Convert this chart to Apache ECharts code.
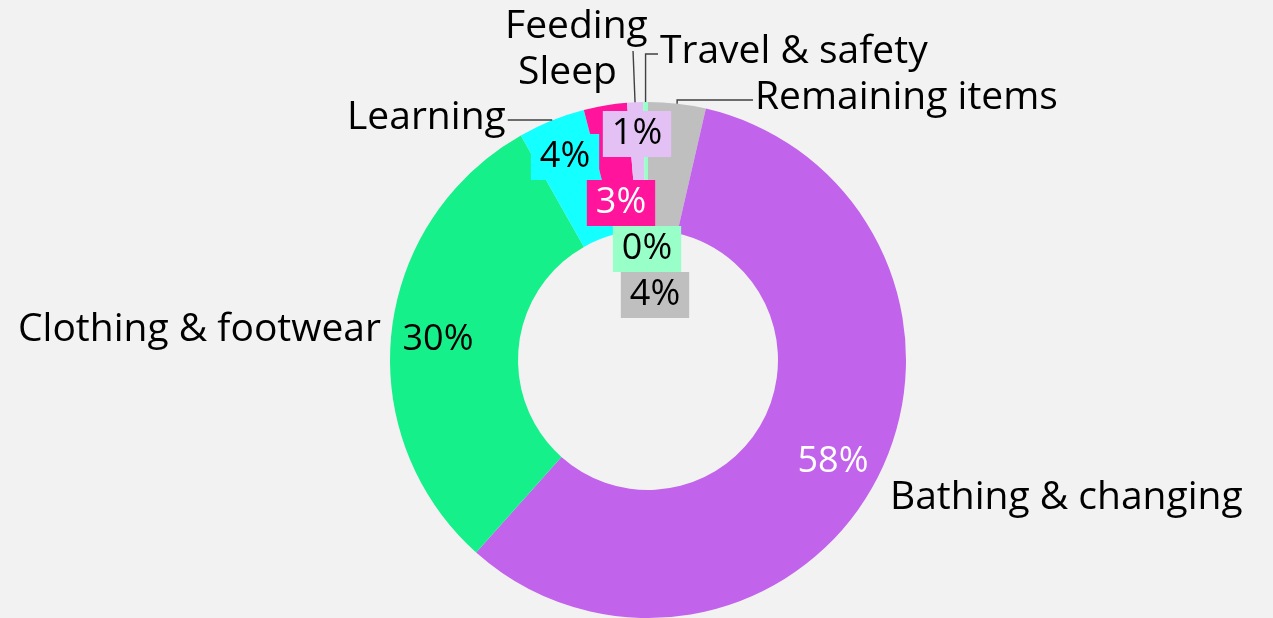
<!DOCTYPE html>
<html>
<head>
<meta charset="utf-8">
<style>
  html, body { margin: 0; padding: 0; background: #F2F2F2; }
  #chart { width: 1273px; height: 618px; }
</style>
<script src="https://cdn.jsdelivr.net/npm/echarts@6/dist/echarts.min.js"></script>
</head>
<body>
<div id="chart"></div>
<script>
// Spending by category (share of total, %), listed clockwise from 12 o'clock
const categories = ['Remaining items', 'Bathing & changing', 'Clothing & footwear', 'Learning', 'Sleep', 'Feeding', 'Travel & safety'];
const shares = [3.6, 58.0, 30.2, 4.2, 2.7, 1.0, 0.3];

const sliceColors = ['#BFBFBF', '#C164EB', '#16F08B', '#14FFFF', '#FF149B', '#E4C1F4', '#99FFC8'];
const pctTextColors = ['#000', '#fff', '#000', '#000', '#fff', '#000', '#000'];
const pctHasBox = [true, false, false, true, true, true, true];
const hasLeader = [true, false, false, true, false, true, true];

const FONT = '"Open Sans", "Liberation Sans", sans-serif';
const NAME_FS = 39;
const PCT_FS = 36;
const CX = 648, CY = 360;

// label placement, as offsets from the ring centre
const pctPlace = [[7, -65], [185, 102], [-210, -20], [-83, -203], [-27, -157], [-11, -226], [-1, -111]];
const namePlace = [[107, -262], [242, 138], [-630, -30], [-301, -242], [-130, -287], [-143, -333], [12, -308]];

const chart = echarts.init(document.getElementById('chart'), null, { renderer: 'canvas' });

const pctData = categories.map((name, i) => ({
  name,
  value: shares[i],
  itemStyle: { color: sliceColors[i] },
  label: {
    color: pctTextColors[i],
    backgroundColor: pctHasBox[i] ? sliceColors[i] : 'transparent',
    padding: pctHasBox[i] ? [5, 9, 3, 9] : 0
  }
}));

const nameData = categories.map((name, i) => ({
  name,
  value: shares[i],
  labelLine: { show: hasLeader[i] }
}));

chart.setOption({
  backgroundColor: '#F2F2F2',
  animation: false,
  series: [
    {
      type: 'pie',
      center: [CX, CY],
      radius: [130, 258],
      startAngle: 90,
      clockwise: true,
      avoidLabelOverlap: false,
      silent: true,
      data: pctData,
      label: {
        show: true,
        position: 'inside',
        fontFamily: FONT,
        fontSize: PCT_FS,
        lineHeight: 38,
        formatter: p => Math.round(p.percent) + '%'
      },
      labelLine: { show: false },
      labelLayout: p => {
        const o = pctPlace[p.dataIndex];
        return { x: CX + o[0], y: CY + o[1], align: 'center', verticalAlign: 'middle' };
      }
    },
    {
      type: 'pie',
      center: [CX, CY],
      radius: [130, 258],
      startAngle: 90,
      clockwise: true,
      avoidLabelOverlap: false,
      silent: true,
      z: 3,
      itemStyle: { color: 'rgba(0,0,0,0)' },
      data: nameData,
      label: {
        show: true,
        position: 'outside',
        fontFamily: FONT,
        fontSize: NAME_FS,
        color: '#000',
        formatter: '{b}'
      },
      labelLine: {
        show: true,
        length: 10,
        length2: 10,
        lineStyle: { color: '#404040', width: 1.4 }
      },
      labelLayout: p => {
        const i = p.dataIndex;
        const o = namePlace[i];
        const x = CX + o[0], y = CY + o[1];
        const res = { x, y, align: 'left', verticalAlign: 'middle' };
        if (hasLeader[i] && p.labelLinePoints) {
          const a = p.labelLinePoints[0];
          const w = p.labelRect.width;
          const endX = a[0] < x ? x - 2 : x + w + 2;
          const lineY = i === 5 ? y + 24 : y + 2;
          if (i === 5) {
            res.labelLinePoints = [[a[0], a[1]], [a[0] - 2, lineY], [a[0] - 2, lineY]];
          } else {
            res.labelLinePoints = [[a[0], a[1]], [a[0], lineY], [endX, lineY]];
          }
        }
        return res;
      }
    }
  ]
});
</script>
</body>
</html>
